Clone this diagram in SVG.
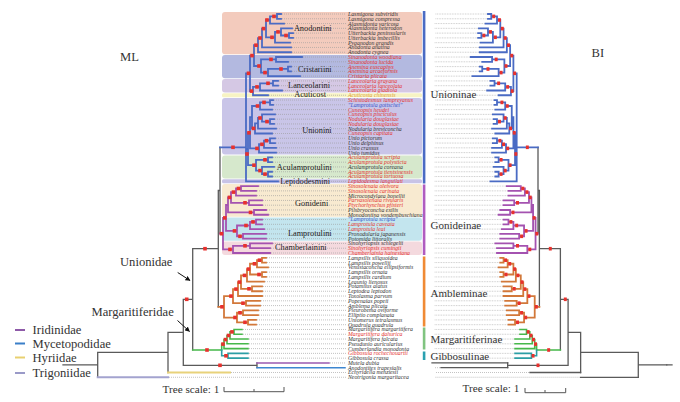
<svg xmlns="http://www.w3.org/2000/svg" xmlns:xlink="http://www.w3.org/1999/xlink" width="680" height="402" viewBox="0 0 680 402">
<defs>
<style>
.br{fill:none;stroke-linecap:square;vector-effect:non-scaling-stroke}
.bl{stroke:#4a6bc4;stroke-width:1.8}
.pu{stroke:#a452b0;stroke-width:1.8}
.or{stroke:#d2783a;stroke-width:1.8}
.gr{stroke:#46b84a;stroke-width:1.6}
.te{stroke:#2b9ea5;stroke-width:1.6}
.gy{stroke:#5a5a5a;stroke-width:1.3}
.ld{fill:none;stroke:#9a9a9a;stroke-width:0.6;stroke-dasharray:1 1}
.d{fill:#e8312d}
text{font-family:'Liberation Serif','Times New Roman',serif;fill:#333}
.tp{font-size:5.8px;font-style:italic}
.tp .r{fill:#e3312c}
.tp .b{fill:#3a55c8}
.tp .y{fill:#e0a030}
.cl{font-size:8.3px;text-anchor:end;fill:#222}
.big{font-size:12.6px}
.sub{font-size:11px}
.sc{font-size:11.2px}
</style>
<marker id="ah" viewBox="0 0 10 10" refX="9" refY="5" markerWidth="5" markerHeight="5" orient="auto"><path d="M0 0L10 5L0 10z" fill="#111"/></marker>
</defs>
<rect width="680" height="402" fill="#fff"/>

<g id="bands">
<rect x="222" y="12" width="200" height="42.24" rx="3" fill="#f3cbbd"/>
<rect x="222" y="55.02" width="200" height="23.12" rx="3" fill="#b3b9e0"/>
<rect x="222" y="78.92" width="200" height="13.56" rx="3" fill="#d5c8e4"/>
<rect x="222" y="93.26" width="200" height="4" rx="1.5" fill="#f7f3c4"/>
<rect x="222" y="98.04" width="200" height="56.58" rx="3" fill="#c9c5e8"/>
<rect x="222" y="155.4" width="200" height="23.12" rx="3" fill="#d6e8cc"/>
<rect x="222" y="179.3" width="200" height="4" rx="1.5" fill="#c8c3e6"/>
<rect x="222" y="184.08" width="200" height="32.68" rx="3" fill="#f8ead0"/>
<rect x="222" y="217.54" width="200" height="23.12" rx="3" fill="#c3e5ee"/>
<rect x="222" y="241.44" width="200" height="13.56" rx="3" fill="#f4d9de"/>
</g>

<g id="clade-bars">
<rect x="422.8" y="11" width="2.6" height="172.5" fill="#4a6bc4"/>
<rect x="422.8" y="184.5" width="2.6" height="70.5" fill="#b05cc0"/>
<rect x="422.8" y="256.5" width="2.6" height="70" fill="#f08a34"/>
<rect x="422.8" y="327.5" width="2.6" height="22" fill="#80c480"/>
<rect x="422.8" y="351.5" width="2.6" height="8.5" fill="#2aa0b0"/>
</g>

<g id="connectors">
<g id="mltree">
<path class="ld" d="M282 14H346M282 18.78H346M285 23.56H346M293 28.34H346M294 33.12H346M294 37.9H346M291 42.68H346M292 47.46H346M292 52.24H346M303 57.02H346M289 61.8H346M292 66.58H346M292 71.36H346M301 76.14H346M279 80.92H346M279 85.7H346M283 90.48H346M269 95.26H346M274 100.04H346M274 104.82H346M273 109.6H346M276 114.38H346M275 119.16H346M275 123.94H346M277 128.72H346M273 133.5H346M276 138.28H346M276 143.06H346M277 147.84H346M277 152.62H346M273 157.4H346M273 162.18H346M275 166.96H346M273 171.74H346M273 176.52H346M279 181.3H346M259 186.08H346M257 190.86H346M257 195.64H346M263 200.42H346M263 205.2H346M267 209.98H346M269 214.76H346M263 219.54H346M263 224.32H346M265 229.1H346M267 233.88H346M267 238.66H346M273 243.44H346M271 248.22H346M271 253H346M267 257.78H346M267 262.56H346M269 267.34H346M267 272.12H346M267 276.9H346M265 281.68H346M263 286.46H346M263 291.24H346M263 296.02H346M261 300.8H346M261 305.58H346M259 310.36H346M259 315.14H346M257 319.92H346M257 324.7H346M243 329.48H346M243 334.26H346M249 339.04H346M249 343.82H346M249 348.6H346M249 353.38H346M249 358.16H346"/>
<path class="br gy" d="M218.3 190.48H220M220 147.3V233.66M192.7 248.66H218.3M218.3 190.48V306.83M183.3 299.33H192.7M192.7 248.66V349.95M168 332.33H183.3M183.3 299.33V365.33M183.3 365.33H257M257 362.94V367.72M97.7 352.4H168M168 332.33V372.5M63 364.84H97.7M97.7 352.4V377.28"/>
<path class="br bl" d="M220 147.3H246M246 73.33V181.3M246 181.3H278M246 73.33H250M250 55.57V91.08M250 55.57H254M254 45.15V65.98M254 45.15H258M258 38.05V52.24M258 52.24H291M258 38.05H262M262 28.64V47.46M262 47.46H291M262 28.64H266M266 19.98V37.3M266 19.98H270M270 16.39V23.56M270 23.56H284M270 16.39H277M277 14V18.78M277 14H281M277 18.78H281M266 37.3H275M275 31.93V42.68M275 42.68H290M275 31.93H281M281 28.34V35.51M281 28.34H292M281 35.51H289M289 33.12V37.9M289 33.12H293M289 37.9H293M254 65.98H261M261 59.41V72.55M261 59.41H276M276 57.02V61.8M276 57.02H302M276 61.8H288M261 72.55H268M268 68.97V76.14M268 76.14H300M268 68.97H288M288 66.58V71.36M288 66.58H291M288 71.36H291M250 91.08H253M253 86.9V95.26M253 95.26H268M253 86.9H260M260 83.31V90.48M260 90.48H282M260 83.31H273M273 80.92V85.7M273 80.92H278M273 85.7H278M246 148.99H248M248 132.8V165.17M248 132.8H250M250 117.2V148.44M250 117.2H252M252 106V128.4M252 106H260M260 102.43V109.6M260 109.6H272M260 102.43H270M270 100.04V104.82M270 100.04H273M270 104.82H273M252 128.4H255M255 123.35V133.5M255 133.5H272M255 123.35H258M258 117.97V128.72M258 128.72H276M258 117.97H262M262 114.38V121.55M262 114.38H275M262 121.55H270M270 119.16V123.94M270 119.16H274M270 123.94H274M250 148.44H259M259 144.26V152.62M259 152.62H276M259 144.26H264M264 140.67V147.84M264 147.84H276M264 140.67H270M270 138.28V143.06M270 138.28H275M270 143.06H275M248 165.17H256M256 159.79V170.55M256 159.79H268M268 157.4V162.18M268 157.4H272M268 162.18H272M256 170.55H262M262 166.96V174.13M262 166.96H274M262 174.13H268M268 171.74V176.52M268 171.74H272M268 176.52H272"/>
<path class="br pu" d="M220 233.66H223M223 217.9V249.42M223 217.9H226M226 204.9V230.89M226 204.9H228M228 197.43V212.37M228 197.43H231M231 192.06V202.81M231 192.06H236M236 188.47V195.64M236 195.64H256M236 188.47H241M241 186.08V190.86M241 186.08H258M241 190.86H256M231 202.81H249M249 200.42V205.2M249 200.42H262M249 205.2H262M228 212.37H254M254 209.98V214.76M254 209.98H266M254 214.76H268M226 230.89H237M237 225.51V236.27M237 225.51H250M250 221.93V229.1M250 229.1H264M250 221.93H256M256 219.54V224.32M256 219.54H262M256 224.32H262M237 236.27H243M243 233.88V238.66M243 233.88H266M243 238.66H266M223 249.42H233M233 245.83V253M233 253H270M233 245.83H250M250 243.44V248.22M250 243.44H272M250 248.22H270"/>
<path class="br or" d="M218.3 306.83H224M224 296.13V317.53M224 296.13H233M233 289.07V303.19M233 289.07H238M238 282.13V296.02M238 296.02H262M238 282.13H241M241 275.4V288.85M241 275.4H247M247 269.13V281.68M247 281.68H264M247 269.13H250M250 263.76V274.51M250 263.76H257M257 260.17V267.34M257 267.34H268M257 260.17H262M262 257.78V262.56M262 257.78H266M262 262.56H266M250 274.51H262M262 272.12V276.9M262 272.12H266M262 276.9H266M241 288.85H252M252 286.46V291.24M252 286.46H262M252 291.24H262M233 303.19H246M246 300.8V305.58M246 300.8H260M246 305.58H260M224 317.53H237M237 312.75V322.31M237 312.75H243M243 310.36V315.14M243 310.36H258M243 315.14H258M237 322.31H248M248 319.92V324.7M248 319.92H256M248 324.7H256"/>
<path class="br gr" d="M192.7 349.95H221.7M221.7 344.12V349.95M221.7 344.12H224M224 339.64V348.6M224 348.6H248M224 339.64H227M227 335.46V343.82M227 343.82H248M227 335.46H230M230 331.87V339.04M230 339.04H248M230 331.87H234M234 329.48V334.26M234 329.48H242M234 334.26H242"/>
<path class="br te" d="M221.7 349.95V355.77M221.7 355.77H228M228 353.38V358.16M228 353.38H248M228 358.16H248"/>
<g id="dots">
<rect class="d" x="272.2" y="14.6" width="3.6" height="3.6"/><rect class="d" x="265.2" y="18.2" width="3.6" height="3.6"/><rect class="d" x="284.2" y="33.7" width="3.6" height="3.6"/><rect class="d" x="270.2" y="35.5" width="3.6" height="3.6"/><rect class="d" x="261.7" y="26.8" width="3.6" height="3.6"/><rect class="d" x="258.2" y="36.2" width="3.6" height="3.6"/><rect class="d" x="254.2" y="43.4" width="3.6" height="3.6"/><rect class="d" x="276.2" y="30.1" width="3.6" height="3.6"/>
<rect class="d" x="269.2" y="57.6" width="3.6" height="3.6"/><rect class="d" x="279.2" y="67.2" width="3.6" height="3.6"/><rect class="d" x="257.2" y="64.2" width="3.6" height="3.6"/><rect class="d" x="250.2" y="53.8" width="3.6" height="3.6"/><rect class="d" x="263.2" y="70.8" width="3.6" height="3.6"/>
<rect class="d" x="266.2" y="81.5" width="3.6" height="3.6"/><rect class="d" x="255.2" y="85.1" width="3.6" height="3.6"/><rect class="d" x="249.7" y="89.3" width="3.6" height="3.6"/><rect class="d" x="246.7" y="71.5" width="3.6" height="3.6"/>
<rect class="d" x="262.2" y="100.6" width="3.6" height="3.6"/><rect class="d" x="255.7" y="104.2" width="3.6" height="3.6"/><rect class="d" x="265.2" y="119.8" width="3.6" height="3.6"/><rect class="d" x="258.2" y="116.2" width="3.6" height="3.6"/><rect class="d" x="251.7" y="126.6" width="3.6" height="3.6"/><rect class="d" x="264.7" y="138.9" width="3.6" height="3.6"/><rect class="d" x="260.2" y="142.5" width="3.6" height="3.6"/><rect class="d" x="255.2" y="146.6" width="3.6" height="3.6"/><rect class="d" x="247.2" y="131" width="3.6" height="3.6"/>
<rect class="d" x="263.2" y="158" width="3.6" height="3.6"/><rect class="d" x="263.2" y="172.3" width="3.6" height="3.6"/><rect class="d" x="258.2" y="168.8" width="3.6" height="3.6"/><rect class="d" x="252.2" y="163.4" width="3.6" height="3.6"/><rect class="d" x="245.2" y="152.2" width="3.6" height="3.6"/><rect class="d" x="231.2" y="145.5" width="3.6" height="3.6"/>
<rect class="d" x="236.7" y="186.7" width="3.6" height="3.6"/><rect class="d" x="231.7" y="190.3" width="3.6" height="3.6"/><rect class="d" x="243.2" y="201" width="3.6" height="3.6"/><rect class="d" x="227.7" y="195.6" width="3.6" height="3.6"/><rect class="d" x="248.7" y="210.6" width="3.6" height="3.6"/><rect class="d" x="251.2" y="220.1" width="3.6" height="3.6"/><rect class="d" x="244.2" y="223.7" width="3.6" height="3.6"/><rect class="d" x="238.2" y="234.5" width="3.6" height="3.6"/><rect class="d" x="232.7" y="229.1" width="3.6" height="3.6"/><rect class="d" x="223" y="216.1" width="3.6" height="3.6"/><rect class="d" x="243.2" y="244" width="3.6" height="3.6"/><rect class="d" x="228.2" y="247.6" width="3.6" height="3.6"/><rect class="d" x="219.7" y="231.9" width="3.6" height="3.6"/>
<rect class="d" x="257.7" y="258.4" width="3.6" height="3.6"/><rect class="d" x="252.7" y="262" width="3.6" height="3.6"/><rect class="d" x="257.2" y="272.7" width="3.6" height="3.6"/><rect class="d" x="246.7" y="267.3" width="3.6" height="3.6"/><rect class="d" x="242.7" y="273.6" width="3.6" height="3.6"/><rect class="d" x="247.2" y="287" width="3.6" height="3.6"/><rect class="d" x="237.7" y="280.3" width="3.6" height="3.6"/><rect class="d" x="234.2" y="287.3" width="3.6" height="3.6"/><rect class="d" x="241.2" y="301.4" width="3.6" height="3.6"/><rect class="d" x="229.2" y="294.3" width="3.6" height="3.6"/><rect class="d" x="238.2" y="311" width="3.6" height="3.6"/><rect class="d" x="243.2" y="320.5" width="3.6" height="3.6"/><rect class="d" x="233.2" y="315.7" width="3.6" height="3.6"/><rect class="d" x="220.2" y="305" width="3.6" height="3.6"/>
<rect class="d" x="203.2" y="246.9" width="3.6" height="3.6"/><rect class="d" x="184.9" y="297.5" width="3.6" height="3.6"/><rect class="d" x="205.2" y="348.2" width="3.6" height="3.6"/><rect class="d" x="218.2" y="363.5" width="3.6" height="3.6"/>
<rect class="d" x="230.2" y="330.1" width="3.6" height="3.6"/><rect class="d" x="226.7" y="333.7" width="3.6" height="3.6"/><rect class="d" x="223.7" y="337.8" width="3.6" height="3.6"/><rect class="d" x="221.2" y="342.3" width="3.6" height="3.6"/><rect class="d" x="224.2" y="354" width="3.6" height="3.6"/>
</g>
</g>
<g id="ml-outgroups">
<path class="ld" d="M330 362.94H346M231 372.5H346M169 377.28H346"/>
<path class="br" stroke="#9a5ab0" stroke-width="1.5" d="M257 362.94H329"/>
<path class="br" stroke="#3d86d0" stroke-width="1.5" d="M257 367.72H345"/>
<path class="br" stroke="#e8d27a" stroke-width="2" d="M168 372.5H230"/>
<path class="br" stroke="#a3a3cf" stroke-width="2" d="M97.7 377.28H168"/>
</g>
<use id="bitree" href="#mltree" xlink:href="#mltree" transform="matrix(-0.82 0 0 1 718.4 0)"/>
<g id="bi-outgroups">
<path class="ld" d="M440 367.72H435M529 372.5H435M579.6 377.28H435"/>
<path class="br gy" d="M666.8 364.84H672M507.7 362.94H432M507.7 367.72H441M580.6 372.5H530M638.3 377.28H580.6"/>
</g>
<g id="arrows">
<path d="M177.7 272.5L190 280.5" stroke="#111" stroke-width="1" fill="none" marker-end="url(#ah)"/>
<path d="M177.5 320.5L189.5 331.5" stroke="#111" stroke-width="1" fill="none" marker-end="url(#ah)"/>
</g>
<g id="scales" stroke="#555" stroke-width="1" fill="none">
<path d="M224 387V391.7H284V387M254 391.7V389"/>
<path d="M525 388V392.7H565.7V388M545 392.7V390"/>
</g>
</g>

<g id="tips" class="tp">
<text x="348" y="15.9">Lasmigona subviridis</text>
<text x="348" y="20.7">Lasmigona compressa</text>
<text x="348" y="25.5">Alasmidonta varicosa</text>
<text x="348" y="30.2">Alasmidonta heterodon</text>
<text x="348" y="35">Utterbackia peninsularis</text>
<text x="348" y="39.8">Utterbackia imbecillis</text>
<text x="348" y="44.6">Pyganodon grandis</text>
<text x="348" y="49.4">Anodonta anatina</text>
<text x="348" y="54.1">Anodonta cygnea</text>
<text x="348" y="58.9" class="r">Sinanodonta woodiana</text>
<text x="348" y="63.7" class="r">Sinanodonta lucida</text>
<text x="348" y="68.5" class="r">Anemina euscaphys</text>
<text x="348" y="73.3" class="r">Anemina arcaeformis</text>
<text x="348" y="78" class="r">Cristaria plicata</text>
<text x="348" y="82.8" class="r">Lanceolaria grayana</text>
<text x="348" y="87.6" class="r">Lanceolaria lanceolata</text>
<text x="348" y="92.4" class="r">Lanceolaria gladiola</text>
<text x="348" y="97.2" class="y">Acuticosta chinensis</text>
<text x="348" y="101.9" class="r">Schistodesmus lampreyanus</text>
<text x="348" y="106.7" class="b">"Lamprotula gottschei"</text>
<text x="348" y="111.5" class="r">Cuneopsis heudei</text>
<text x="348" y="116.3" class="r">Cuneopsis pisciculus</text>
<text x="348" y="121.1" class="r">Nodularia douglasiae</text>
<text x="348" y="125.8" class="r">Nodularia douglasiae</text>
<text x="348" y="130.6">Nodularia breviconcha</text>
<text x="348" y="135.4" class="r">Cuneopsis capitata</text>
<text x="348" y="140.2">Unio pictorum</text>
<text x="348" y="145">Unio delphinus</text>
<text x="348" y="149.7">Unio crassus</text>
<text x="348" y="154.5">Unio tumidus</text>
<text x="348" y="159.3" class="r">Aculamprotula scripta</text>
<text x="348" y="164.1" class="r">Aculamprotula polysticta</text>
<text x="348" y="168.9">Aculamprotula coreana</text>
<text x="348" y="173.6" class="r">Aculamprotula tientsinensis</text>
<text x="348" y="178.4" class="r">Aculamprotula tortuosa</text>
<text x="348" y="183.2" class="r">Lepidodesma languilati</text>
<text x="348" y="188" class="r">Sinosolenaia oleivora</text>
<text x="348" y="192.8" class="r">Sinosolenaia carinata</text>
<text x="348" y="197.5">Microcondylaea bonellii</text>
<text x="348" y="202.3" class="r">Parvasolenaia rivularis</text>
<text x="348" y="207.1" class="r">Ptychorhynchus pfisteri</text>
<text x="348" y="211.9">Pilsbryoconcha exilis</text>
<text x="348" y="216.7">Monodontina vondembuschiana</text>
<text x="348" y="221.4" class="b">"Lamprotula scripta"</text>
<text x="348" y="226.2" class="r">Lamprotula caveata</text>
<text x="348" y="231" class="r">Lamprotula leai</text>
<text x="348" y="235.8">Pronodularia japanensis</text>
<text x="348" y="240.6">Potomida littoralis</text>
<text x="348" y="245.3">Sinohyriopsis schlegelii</text>
<text x="348" y="250.1" class="r">Sinohyriopsis cumingii</text>
<text x="348" y="254.9" class="r">Chamberlainia hainesiana</text>
<text x="348" y="259.7">Lampsilis siliquoidea</text>
<text x="348" y="264.5">Lampsilis powellii</text>
<text x="348" y="269.2">Venustaconcha ellipsiformis</text>
<text x="348" y="274">Lampsilis ornata</text>
<text x="348" y="278.8">Lampsilis cardium</text>
<text x="348" y="283.6">Leaunio lienosus</text>
<text x="348" y="288.4">Potamilus alatus</text>
<text x="348" y="293.1">Leptodea leptodon</text>
<text x="348" y="297.9">Toxolasma parvum</text>
<text x="348" y="302.7">Popenaias popeii</text>
<text x="348" y="307.5">Amblema plicata</text>
<text x="348" y="312.3">Pleurobema oviforme</text>
<text x="348" y="317">Elliptio complanata</text>
<text x="348" y="321.8">Uniomerus tetralasmus</text>
<text x="348" y="326.6">Quadrula quadrula</text>
<text x="348" y="331.4">Margaritifera margaritifera</text>
<text x="348" y="336.2" class="r">Margaritifera dahurica</text>
<text x="348" y="340.9">Margaritifera falcata</text>
<text x="348" y="345.7">Pseudunio auricularius</text>
<text x="348" y="350.5">Cumberlandia monodonta</text>
<text x="348" y="355.3" class="r">Gibbosula rochechouartii</text>
<text x="348" y="360.1">Gibbosula crassa</text>
<text x="348" y="364.8">Mutela dubia</text>
<text x="348" y="369.6">Anodontites trapesialis</text>
<text x="348" y="374.4">Echyridella menziesii</text>
<text x="348" y="379.2">Neotrigonia margaritacea</text>
</g>

<g id="clade-labels">
<text class="cl" x="331.7" y="31.3">Anodontini</text>
<text class="cl" x="331.7" y="72.2">Cristariini</text>
<text class="cl" x="330" y="88">Lanceolarini</text>
<text class="cl" x="326" y="97.3">Acuticost</text>
<text class="cl" x="331.7" y="133">Unionini</text>
<text class="cl" x="331.7" y="169.6">Aculamprotulini</text>
<text class="cl" x="330" y="184">Lepidodesmini</text>
<text class="cl" x="328.3" y="206.2">Gonideini</text>
<text class="cl" x="331.7" y="235.6">Lamprotulini</text>
<text class="cl" x="326.7" y="250.2">Chamberlainini</text>
</g>

<g id="subfamily-labels" class="sub">
<text x="430.5" y="98">Unioninae</text>
<text x="430.5" y="228.7">Gonideinae</text>
<text x="430.5" y="297.2">Ambleminae</text>
<text x="430.5" y="342.8">Margaritiferinae</text>
<text x="430.5" y="360.3">Gibbosulinae</text>
</g>

<g id="titles" class="big">
<text x="120" y="61">ML</text>
<text x="591.5" y="56.5">BI</text>
<text x="120" y="266">Unionidae</text>
<text x="91.5" y="315.5">Margaritiferidae</text>
</g>

<g id="legend">
<path d="M15 330H25" stroke="#8e5aa8" stroke-width="2"/>
<path d="M15 343.5H25" stroke="#3a7fc8" stroke-width="2"/>
<path d="M15 357.5H25" stroke="#e8d070" stroke-width="2"/>
<path d="M15 373H25" stroke="#9a9ac8" stroke-width="2"/>
<text class="big" x="32.5" y="334">Iridinidae</text>
<text class="big" x="32.5" y="347.5">Mycetopodidae</text>
<text class="big" x="32.5" y="361.5">Hyriidae</text>
<text class="big" x="32.5" y="377">Trigoniidae</text>
</g>

<g id="scale-labels" class="sc">
<text x="162.5" y="392.5">Tree scale: 1</text>
<text x="462.5" y="392">Tree scale: 1</text>
</g>
</svg>
